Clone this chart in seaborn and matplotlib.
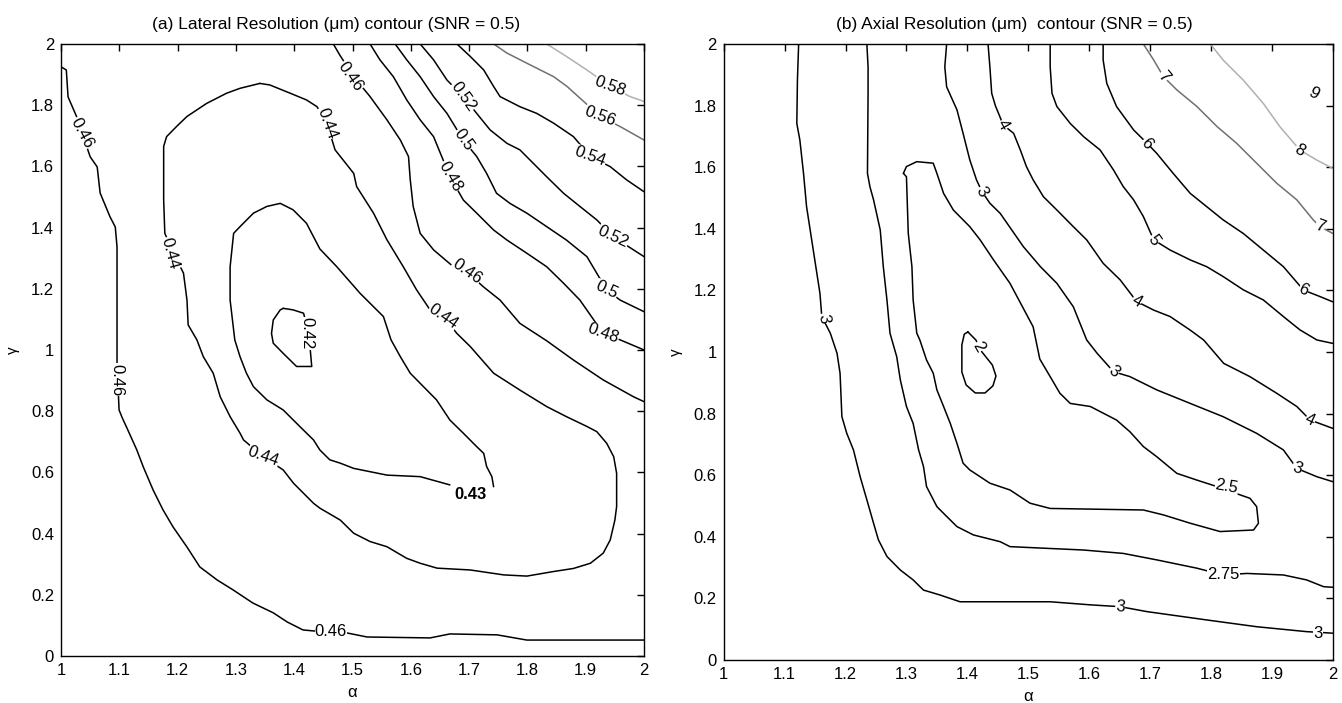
import numpy as np
import pandas as pd
import matplotlib
matplotlib.use("Agg")
import matplotlib.pyplot as plt
import seaborn as sns

# ---- (a) lateral resolution contours, (alpha, gamma) points ----
lat_046_left = [(1.0, 1.925), (1.009, 1.915), (1.012, 1.827), (1.027, 1.761), (1.036, 1.709), (1.050, 1.631),
                (1.062, 1.598), (1.067, 1.513), (1.084, 1.435), (1.093, 1.402), (1.096, 1.337), (1.096, 0.958),
                (1.0995, 0.804), (1.105, 0.778), (1.113, 0.745), (1.130, 0.673), (1.141, 0.618), (1.158, 0.542),
                (1.175, 0.477), (1.192, 0.422), (1.216, 0.356), (1.238, 0.291), (1.268, 0.248), (1.295, 0.216),
                (1.329, 0.173), (1.364, 0.141), (1.388, 0.111), (1.415, 0.085), (1.432, 0.082), (1.491, 0.075),
                (1.525, 0.062), (1.633, 0.059), (1.667, 0.072), (1.748, 0.069), (1.799, 0.052), (2.0, 0.052)]
lat_044_loop = [(1.341, 1.871), (1.358, 1.866), (1.393, 1.839), (1.421, 1.817), (1.439, 1.795), (1.456, 1.741),
                (1.470, 1.654), (1.502, 1.577), (1.507, 1.534), (1.536, 1.447), (1.559, 1.360), (1.587, 1.272),
                (1.610, 1.196), (1.633, 1.131), (1.656, 1.109), (1.679, 1.054), (1.702, 1.011), (1.742, 0.924),
                (1.787, 0.869), (1.833, 0.815), (1.867, 0.782), (1.902, 0.750), (1.919, 0.733), (1.936, 0.695),
                (1.948, 0.651), (1.953, 0.597), (1.953, 0.488), (1.950, 0.444), (1.942, 0.379), (1.930, 0.336),
                (1.908, 0.303), (1.879, 0.286), (1.845, 0.276), (1.799, 0.261), (1.759, 0.265), (1.702, 0.281),
                (1.645, 0.287), (1.616, 0.303), (1.593, 0.319), (1.559, 0.357), (1.530, 0.374), (1.502, 0.401),
                (1.479, 0.444), (1.444, 0.483), (1.433, 0.499), (1.399, 0.564), (1.381, 0.608), (1.347, 0.651),
                (1.313, 0.706), (1.307, 0.728), (1.290, 0.782), (1.273, 0.847), (1.261, 0.924), (1.244, 0.978),
                (1.233, 1.033), (1.218, 1.082), (1.216, 1.163), (1.210, 1.251), (1.193, 1.316), (1.178, 1.381),
                (1.176, 1.490), (1.176, 1.665), (1.181, 1.697), (1.198, 1.730), (1.216, 1.763), (1.250, 1.806),
                (1.284, 1.839), (1.307, 1.855), (1.341, 1.871)]
lat_043_loop = [(1.742, 0.553), (1.739, 0.586), (1.730, 0.619), (1.725, 0.662), (1.713, 0.684), (1.690, 0.728),
                (1.667, 0.771), (1.644, 0.837), (1.616, 0.891), (1.599, 0.924), (1.582, 0.978), (1.566, 1.033),
                (1.553, 1.109), (1.513, 1.185), (1.473, 1.272), (1.444, 1.330), (1.421, 1.414), (1.398, 1.458),
                (1.376, 1.479), (1.353, 1.469), (1.330, 1.447), (1.307, 1.403), (1.296, 1.381), (1.290, 1.272),
                (1.290, 1.163), (1.298, 1.033), (1.307, 0.978), (1.318, 0.924), (1.330, 0.880), (1.353, 0.837),
                (1.381, 0.804), (1.410, 0.749), (1.433, 0.706), (1.444, 0.673), (1.461, 0.641), (1.479, 0.630),
                (1.502, 0.613), (1.559, 0.591), (1.616, 0.586), (1.667, 0.559)]
lat_042_loop = [(1.381, 1.136), (1.398, 1.131), (1.416, 1.120), (1.424, 1.060), (1.427, 1.011), (1.430, 0.946),
                (1.404, 0.946), (1.381, 0.989), (1.364, 1.022), (1.361, 1.054), (1.364, 1.098), (1.376, 1.131),
                (1.381, 1.136)]
lat_046_right = [(1.467, 2.0), (1.478, 1.964), (1.502, 1.893), (1.530, 1.828), (1.559, 1.752), (1.582, 1.686),
                 (1.596, 1.632), (1.599, 1.556), (1.604, 1.469), (1.616, 1.381), (1.639, 1.327), (1.673, 1.272),
                 (1.696, 1.256), (1.724, 1.207), (1.753, 1.163), (1.787, 1.087), (1.833, 1.030), (1.879, 0.967),
                 (1.930, 0.902), (1.982, 0.847), (2.0, 0.831)]
lat_048 = [(1.530, 2.0), (1.547, 1.948), (1.570, 1.893), (1.593, 1.817), (1.616, 1.752), (1.639, 1.697),
           (1.667, 1.567), (1.690, 1.490), (1.713, 1.447), (1.742, 1.392), (1.765, 1.359), (1.799, 1.316),
           (1.833, 1.272), (1.862, 1.218), (1.890, 1.163), (1.930, 1.054), (1.959, 1.033), (2.0, 1.000)]
lat_050 = [(1.573, 2.0), (1.593, 1.948), (1.616, 1.893), (1.639, 1.828), (1.662, 1.773), (1.690, 1.686),
           (1.713, 1.632), (1.730, 1.577), (1.747, 1.512), (1.770, 1.479), (1.799, 1.447), (1.833, 1.403),
           (1.867, 1.359), (1.902, 1.305), (1.936, 1.196), (1.959, 1.163), (2.0, 1.125)]
lat_052 = [(1.616, 2.0), (1.639, 1.948), (1.662, 1.882), (1.690, 1.828), (1.713, 1.773), (1.736, 1.719),
           (1.765, 1.675), (1.787, 1.654), (1.810, 1.610), (1.833, 1.566), (1.862, 1.512), (1.890, 1.469),
           (1.919, 1.425), (1.947, 1.370), (1.982, 1.327), (2.0, 1.305)]
lat_054 = [(1.679, 2.0), (1.702, 1.959), (1.725, 1.915), (1.742, 1.861), (1.753, 1.828), (1.787, 1.795),
           (1.816, 1.773), (1.845, 1.741), (1.879, 1.697), (1.908, 1.632), (1.942, 1.599), (1.970, 1.556),
           (2.0, 1.517)]
lat_056 = [(1.742, 2.0), (1.765, 1.970), (1.799, 1.937), (1.845, 1.893), (1.868, 1.861), (1.925, 1.763),
           (1.959, 1.730), (2.0, 1.686)]
lat_058 = [(1.833, 2.0), (1.867, 1.959), (1.902, 1.915), (1.942, 1.861), (1.976, 1.828), (2.0, 1.812)]

lat_lines = [lat_046_left, lat_044_loop, lat_043_loop, lat_042_loop, lat_046_right,
             lat_048, lat_050, lat_052, lat_054, lat_056, lat_058]
lat_colors = ["black"] * 9 + ["#707070", "#b0b0b0"]

# label text, alpha, gamma, rotation
lat_labels = [("0.46", 1.036, 1.709, -62), ("0.46", 1.096, 0.902, -90), ("0.46", 1.463, 0.080, 0),
              ("0.44", 1.456, 1.741, -70), ("0.44", 1.187, 1.316, -75), ("0.44", 1.347, 0.651, -20),
              ("0.44", 1.656, 1.109, -35), ("0.42", 1.421, 1.054, -90),
              ("0.46", 1.496, 1.893, -55), ("0.46", 1.696, 1.256, -35),
              ("0.48", 1.667, 1.567, -60), ("0.48", 1.930, 1.054, -20),
              ("0.5", 1.690, 1.686, -55), ("0.5", 1.936, 1.196, -25),
              ("0.52", 1.690, 1.828, -55), ("0.52", 1.947, 1.370, -25),
              ("0.54", 1.908, 1.632, -20), ("0.56", 1.925, 1.763, -20), ("0.58", 1.942, 1.861, -20)]
lat_bold_label = ("0.43", 1.702, 0.528)

# ---- (b) axial resolution contours ----
ax_3_outer = [(1.123, 2.0), (1.121, 1.883), (1.120, 1.742), (1.125, 1.688), (1.131, 1.580), (1.136, 1.472),
              (1.147, 1.331), (1.158, 1.190), (1.161, 1.115), (1.175, 1.061), (1.186, 0.996), (1.191, 0.931),
              (1.194, 0.790), (1.202, 0.736), (1.213, 0.682), (1.224, 0.595), (1.235, 0.520), (1.246, 0.444),
              (1.254, 0.390), (1.268, 0.336), (1.290, 0.292), (1.311, 0.260), (1.328, 0.227), (1.355, 0.211),
              (1.388, 0.189), (1.454, 0.189), (1.536, 0.189), (1.602, 0.179), (1.651, 0.173), (1.695, 0.157),
              (1.793, 0.130), (1.875, 0.108), (1.957, 0.092), (2.0, 0.087)]
ax_275 = [(1.235, 2.0), (1.237, 1.926), (1.237, 1.840), (1.236, 1.580), (1.240, 1.537), (1.246, 1.494),
          (1.257, 1.396), (1.262, 1.277), (1.268, 1.169), (1.273, 1.061), (1.284, 0.985), (1.290, 0.909),
          (1.300, 0.823), (1.311, 0.768), (1.320, 0.682), (1.328, 0.628), (1.333, 0.563), (1.350, 0.498),
          (1.361, 0.476), (1.383, 0.433), (1.410, 0.406), (1.454, 0.384), (1.470, 0.368), (1.591, 0.357),
          (1.656, 0.346), (1.711, 0.325), (1.777, 0.298), (1.820, 0.276), (1.859, 0.281), (1.919, 0.276),
          (1.957, 0.260), (1.985, 0.238), (2.0, 0.236)]
ax_25_loop = [(1.295, 1.580), (1.300, 1.602), (1.317, 1.618), (1.344, 1.613), (1.350, 1.580), (1.361, 1.515),
              (1.377, 1.461), (1.404, 1.407), (1.421, 1.364), (1.443, 1.299), (1.470, 1.223), (1.508, 1.082),
              (1.519, 0.977), (1.536, 0.920), (1.552, 0.866), (1.569, 0.833), (1.602, 0.823), (1.645, 0.779),
              (1.667, 0.741), (1.689, 0.693), (1.711, 0.660), (1.744, 0.606), (1.777, 0.584), (1.810, 0.563),
              (1.848, 0.536), (1.864, 0.525), (1.875, 0.498), (1.878, 0.444), (1.870, 0.422), (1.815, 0.417),
              (1.766, 0.444), (1.722, 0.471), (1.689, 0.487), (1.536, 0.492), (1.503, 0.509), (1.470, 0.552),
              (1.437, 0.574), (1.421, 0.595), (1.404, 0.617), (1.393, 0.639), (1.383, 0.703), (1.372, 0.768),
              (1.361, 0.823), (1.350, 0.877), (1.344, 0.931), (1.333, 0.974), (1.322, 1.039), (1.317, 1.061),
              (1.311, 1.169), (1.309, 1.277), (1.303, 1.385), (1.300, 1.569), (1.295, 1.580)]
ax_3_inner = [(1.366, 2.0), (1.363, 1.926), (1.366, 1.861), (1.383, 1.786), (1.393, 1.710), (1.404, 1.624),
              (1.415, 1.559), (1.424, 1.521), (1.437, 1.483), (1.454, 1.450), (1.492, 1.342), (1.520, 1.277),
              (1.547, 1.223), (1.574, 1.147), (1.596, 1.039), (1.613, 0.996), (1.640, 0.936), (1.667, 0.920),
              (1.711, 0.877), (1.766, 0.833), (1.820, 0.790), (1.875, 0.736), (1.919, 0.682), (1.941, 0.622),
              (1.974, 0.595), (2.0, 0.579)]
ax_4 = [(1.434, 2.0), (1.437, 1.926), (1.440, 1.840), (1.446, 1.800), (1.459, 1.737), (1.476, 1.710),
        (1.487, 1.656), (1.497, 1.602), (1.508, 1.559), (1.525, 1.504), (1.547, 1.461), (1.574, 1.407),
        (1.596, 1.364), (1.623, 1.288), (1.651, 1.234), (1.678, 1.164), (1.706, 1.136), (1.733, 1.115),
        (1.766, 1.071), (1.788, 1.039), (1.821, 0.963), (1.864, 0.920), (1.908, 0.866), (1.941, 0.823),
        (1.963, 0.779), (1.985, 0.763), (2.0, 0.752)]
ax_5 = [(1.536, 2.0), (1.536, 1.926), (1.539, 1.840), (1.547, 1.797), (1.569, 1.742), (1.591, 1.699),
        (1.618, 1.656), (1.640, 1.591), (1.656, 1.537), (1.673, 1.494), (1.689, 1.440), (1.706, 1.364),
        (1.733, 1.331), (1.766, 1.299), (1.793, 1.277), (1.820, 1.245), (1.853, 1.202), (1.886, 1.169),
        (1.919, 1.115), (1.946, 1.072), (1.974, 1.039), (2.0, 1.028)]
ax_6 = [(1.623, 2.0), (1.623, 1.948), (1.629, 1.872), (1.645, 1.797), (1.673, 1.721), (1.695, 1.678),
        (1.711, 1.645), (1.738, 1.580), (1.766, 1.515), (1.793, 1.472), (1.820, 1.429), (1.853, 1.385),
        (1.886, 1.331), (1.919, 1.277), (1.952, 1.201), (1.979, 1.180), (2.0, 1.163)]
ax_7 = [(1.689, 2.0), (1.706, 1.948), (1.722, 1.894), (1.744, 1.851), (1.777, 1.797), (1.810, 1.732),
        (1.842, 1.678), (1.875, 1.613), (1.908, 1.548), (1.941, 1.494), (1.968, 1.429), (1.979, 1.407),
        (2.0, 1.385)]
ax_8 = [(1.799, 2.0), (1.820, 1.948), (1.853, 1.883), (1.886, 1.807), (1.913, 1.732), (1.946, 1.656),
        (1.974, 1.623), (2.0, 1.596)]
ax_2_loop = [(1.401, 1.065), (1.414, 1.039), (1.424, 1.000), (1.441, 0.958), (1.447, 0.922), (1.442, 0.890),
             (1.429, 0.867), (1.413, 0.867), (1.398, 0.893), (1.391, 0.935), (1.391, 1.023), (1.395, 1.058),
             (1.401, 1.065)]

ax_lines = [ax_3_outer, ax_275, ax_25_loop, ax_3_inner, ax_4, ax_5, ax_6, ax_7, ax_8, ax_2_loop]
ax_colors = ["black"] * 7 + ["#707070", "#b0b0b0", "black"]

ax_labels = [("3", 1.164, 1.109, -80), ("3", 1.651, 0.173, -5), ("3", 1.976, 0.087, 0),
             ("2.75", 1.820, 0.276, 0), ("2.5", 1.826, 0.563, -10), ("2", 1.418, 1.016, -60),
             ("3", 1.424, 1.521, -60), ("3", 1.640, 0.936, -40), ("3", 1.941, 0.622, -20),
             ("4", 1.459, 1.737, -60), ("4", 1.678, 1.164, -30), ("4", 1.963, 0.779, -25),
             ("5", 1.706, 1.364, -55), ("6", 1.695, 1.678, -50), ("6", 1.952, 1.201, -25),
             ("7", 1.722, 1.894, -50), ("7", 1.979, 1.407, -20), ("8", 1.946, 1.656, -30),
             ("9", 1.968, 1.840, -30)]

x_ticks = [1.0, 1.1, 1.2, 1.3, 1.4, 1.5, 1.6, 1.7, 1.8, 1.9, 2.0]
y_ticks = [0.0, 0.2, 0.4, 0.6, 0.8, 1.0, 1.2, 1.4, 1.6, 1.8, 2.0]

sns.set_style("white")
plt.rcParams['font.family'] = ['Liberation Sans', 'DejaVu Sans']
plt.rcParams['text.color'] = 'black'
plt.rcParams['axes.labelcolor'] = 'black'

fig = plt.figure(figsize=(13.42, 7.03), dpi=100)
ax_a = fig.add_axes([0.0455, 0.0669, 0.4344, 0.8706])
ax_b = fig.add_axes([0.5393, 0.0612, 0.4538, 0.8762])


def draw_panel(ax, lines, colors, labels, title, title_x):
    for pts, col in zip(lines, colors):
        df = pd.DataFrame(pts, columns=["alpha", "gamma"])
        sns.lineplot(data=df, x="alpha", y="gamma", sort=False, estimator=None,
                     color=col, linewidth=1.1, ax=ax)
    for txt, xa, yg, rot in labels:
        ax.text(xa, yg, txt, rotation=rot, rotation_mode="anchor", ha="center", va="center",
                fontsize=12, zorder=5, color="black",
                bbox=dict(facecolor="white", edgecolor="none", pad=0.3))
    ax.set_xlim(1, 2)
    ax.set_ylim(0, 2)
    ax.set_xticks(x_ticks)
    ax.set_xticklabels([f"{v:g}" for v in x_ticks])
    ax.set_yticks(y_ticks)
    ax.set_yticklabels([f"{v:g}" for v in y_ticks])
    ax.tick_params(direction="in", length=5, width=1, top=True, right=True,
                   labelsize=12, pad=5, colors="black")
    for s in ax.spines.values():
        s.set_visible(True)
        s.set_color("black")
        s.set_linewidth(1.0)
    ax.set_xlabel("α", fontsize=12, labelpad=5)
    ax.set_ylabel("γ", fontsize=11, labelpad=8)
    ax.set_title(title, fontsize=12.5, pad=11, x=title_x, color="black")


draw_panel(ax_a, lat_lines, lat_colors, lat_labels,
           "(a) Lateral Resolution (μm) contour (SNR = 0.5)", 0.472)
txt, xa, yg = lat_bold_label
ax_a.text(xa, yg, txt, ha="center", va="center", fontsize=12, fontweight="bold", zorder=5,
          color="black", bbox=dict(facecolor="white", edgecolor="none", pad=0.3))
draw_panel(ax_b, ax_lines, ax_colors, ax_labels,
           "(b) Axial Resolution (μm)  contour (SNR = 0.5)", 0.477)

fig.savefig("out.png", dpi=100)
